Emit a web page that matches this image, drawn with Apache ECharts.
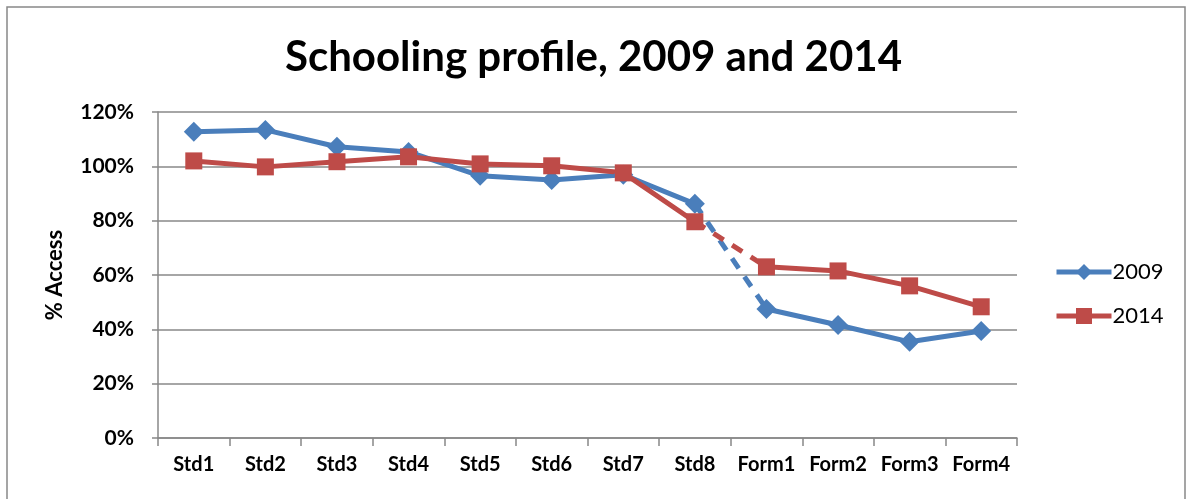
<!DOCTYPE html>
<html>
<head>
<meta charset="utf-8">
<script src="https://cdn.jsdelivr.net/npm/echarts@6/dist/echarts.min.js"></script>
<style>
  html, body { margin: 0; padding: 0; background: #fff; }
  #chart { width: 1187px; height: 499px; }
</style>
</head>
<body>
<div id="chart"></div>
<script>
var grades = ['Std1', 'Std2', 'Std3', 'Std4', 'Std5', 'Std6', 'Std7', 'Std8', 'Form1', 'Form2', 'Form3', 'Form4'];
var access2009 = [112.7, 113.4, 107.2, 105.3, 96.5, 95.0, 96.9, 86.2, 47.5, 41.6, 35.4, 39.4];
var access2014 = [102.0, 99.8, 101.7, 103.5, 100.9, 100.2, 97.6, 79.6, 63.0, 61.5, 56.0, 48.3];
var yTicks = [0, 20, 40, 60, 80, 100, 120];

// std part solid, Std8 -> Form1 dashed, form part solid
var breakAt = 7;

function extend(a, b) {
    var o = {}, k;
    for (k in a) o[k] = a[k];
    for (k in b) o[k] = b[k];
    return o;
}

function part(vals, from, to) {
    return vals.map(function (v, i) { return (i >= from && i <= to) ? v : null; });
}

function yearSeries(name, vals, color, symbol, size) {
    var base = {
        name: name,
        type: 'line',
        color: color,
        symbol: symbol,
        symbolSize: size,
        connectNulls: false,
        lineStyle: { width: 5, color: color },
        itemStyle: { color: color },
        animation: false
    };
    return [
        extend(base, { data: part(vals, 0, breakAt) }),
        extend(base, { data: part(vals, breakAt, breakAt + 1), showSymbol: false,
            lineStyle: { width: 5, color: color, type: [12, 10] } }),
        extend(base, { data: part(vals, breakAt + 1, vals.length - 1) })
    ];
}

var chart = echarts.init(document.getElementById('chart'));
var fontFam = 'Lato, "Open Sans", sans-serif';

var option = {
    backgroundColor: '#fff',
    title: {
        text: 'Schooling profile, 2009 and 2014',
        left: 'center',
        top: 31,
        textStyle: { fontFamily: fontFam, fontSize: 42, fontWeight: 'bold', color: '#000' }
    },
    legend: {
        orient: 'vertical',
        left: 1049,
        top: 256,
        itemWidth: 55,
        itemHeight: 20,
        itemGap: 22,
        data: ['2009', '2014'],
        lineStyle: { width: 5 },
        textStyle: { fontFamily: fontFam, fontSize: 22, color: '#000', padding: [0, 0, 0, -4] }
    },
    grid: { left: 158, right: 170, top: 112, bottom: 61 },
    xAxis: {
        type: 'category',
        data: grades,
        boundaryGap: true,
        axisLine: { lineStyle: { color: '#888', width: 1.5 } },
        axisTick: { show: true, interval: 0, length: 8, lineStyle: { color: '#888', width: 1.5 } },
        axisLabel: { interval: 0, hideOverlap: false, fontFamily: fontFam, fontSize: 20, fontWeight: 'bold',
            color: '#000', margin: 17 }
    },
    yAxis: {
        type: 'value',
        min: yTicks[0],
        max: yTicks[yTicks.length - 1],
        interval: 20,
        name: '% Access',
        nameLocation: 'middle',
        nameGap: 92,
        nameTextStyle: { fontFamily: fontFam, fontSize: 22, fontWeight: 'bold', color: '#000' },
        axisLine: { show: true, lineStyle: { color: '#888', width: 1.5 } },
        axisTick: { show: true, length: 6, lineStyle: { color: '#888', width: 1.5 } },
        splitLine: { lineStyle: { color: '#888', width: 1.5 } },
        axisLabel: { fontFamily: fontFam, fontSize: 21, fontWeight: 'bold', color: '#000', margin: 24,
            formatter: '{value}%' }
    },
    graphic: [{
        type: 'rect',
        shape: { x: 7, y: 7, width: 1178, height: 500 },
        style: { fill: 'none', stroke: '#888', lineWidth: 1.5 },
        silent: true
    }],
    series: [].concat(
        yearSeries('2009', access2009, '#4a7ebb', 'diamond', 20),
        yearSeries('2014', access2014, '#be4b48', 'rect', 17)
    )
};

chart.setOption(option);
</script>
</body>
</html>
